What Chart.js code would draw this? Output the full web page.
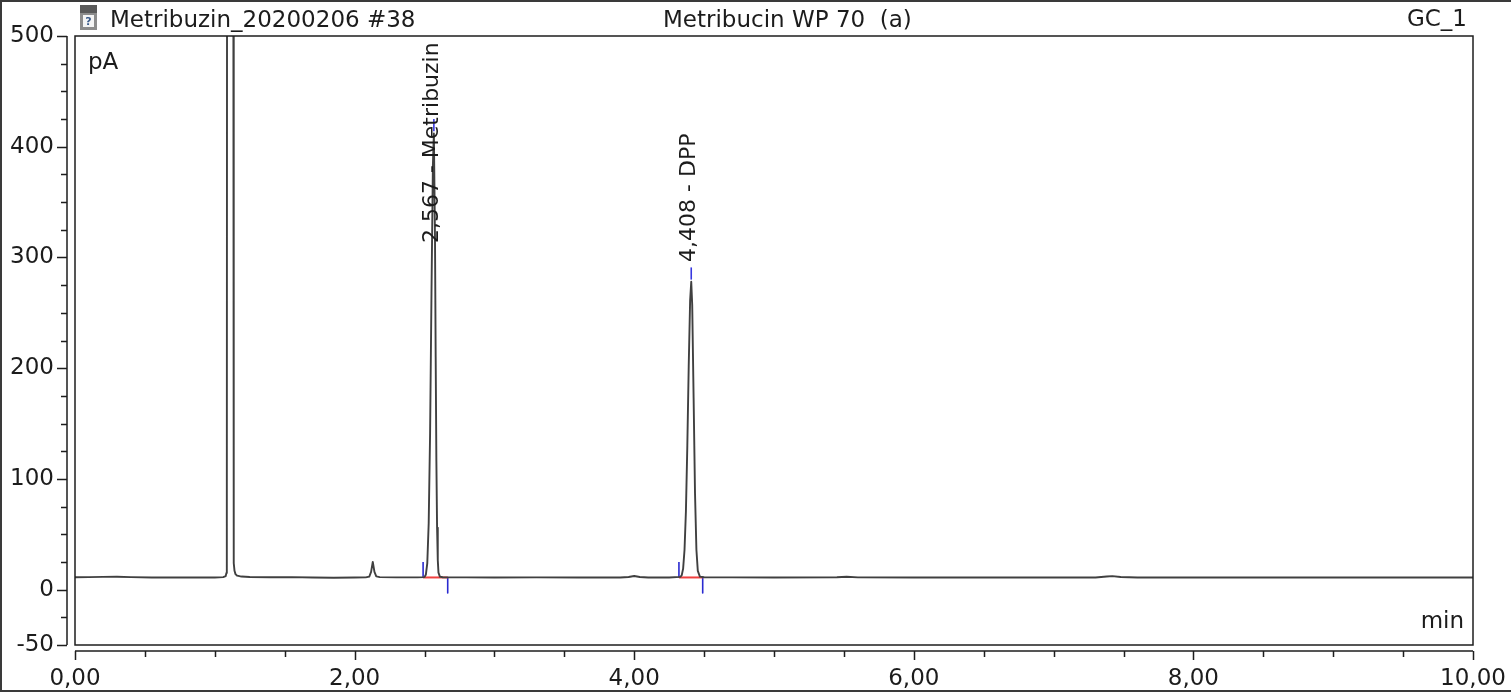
<!DOCTYPE html>
<html>
<head>
<meta charset="utf-8">
<title>Metribuzin_20200206 #38</title>
<script src="https://cdn.jsdelivr.net/npm/chart.js@4"></script>
<style>
  html, body { margin: 0; padding: 0; background: #fff; }
  canvas { display: block; }
</style>
</head>
<body>
<canvas id="chromChart" width="1511" height="692"></canvas>
<script>
// GC_1 trace: retention time (min) and detector signal (pA)
const traceTime = [
  0.00, 0.10, 0.20, 0.30, 0.40, 0.55, 0.70, 0.85, 1.00, 1.06,
  1.078, 1.083, 1.086, 1.088, 1.132, 1.134, 1.137, 1.141, 1.148, 1.16,
  1.19, 1.25, 1.40, 1.55, 1.70, 1.85, 2.00, 2.08, 2.105, 2.118,
  2.13, 2.142, 2.155, 2.18, 2.30, 2.45, 2.50, 2.51, 2.52, 2.53,
  2.54, 2.55, 2.56, 2.567, 2.575, 2.58, 2.585, 2.59, 2.595, 2.60,
  2.61, 2.63, 2.80, 3.00, 3.30, 3.60, 3.90, 3.96, 4.00, 4.04,
  4.10, 4.25, 4.33, 4.34, 4.35, 4.36, 4.37, 4.38, 4.39, 4.40,
  4.408, 4.415, 4.425, 4.435, 4.445, 4.455, 4.47, 4.50, 4.70, 5.00,
  5.45, 5.52, 5.60, 6.00, 6.50, 7.00, 7.30, 7.38, 7.42, 7.48,
  7.60, 8.00, 8.50, 9.00, 9.50, 10.00
];
const traceSignal = [
  11.2, 11.3, 11.5, 11.6, 11.3, 11.0, 10.9, 10.9, 11.0, 11.3,
  12.2, 15, 60, 700, 700, 60, 24, 17, 14, 12.6,
  11.8, 11.4, 11.2, 11.3, 10.9, 10.7, 10.9, 11.1, 11.8, 16,
  25, 16, 12, 11.3, 11.1, 11.1, 11.3, 13.7, 24, 60,
  141, 268, 383, 412, 319, 210, 116, 56, 26.7, 15.4,
  11.8, 11.2, 11.1, 11.0, 11.1, 10.9, 11.0, 11.4, 12.3, 11.4,
  11.0, 11.0, 11.5, 13, 19, 36, 71, 130, 202, 261,
  278, 257, 173, 87, 36, 17, 11.8, 11.2, 11.1, 11.0,
  11.2, 11.6, 11.1, 10.9, 10.9, 10.9, 11.0, 11.8, 12.2, 11.4,
  11.0, 10.9, 10.9, 10.9, 10.9, 10.9
];

// integrated peaks
const peakNames = ['Metribuzin', 'DPP'];
const peakTimes = [2.567, 4.408];
const peakHeights = [412, 278];
const peakStarts = [2.49, 4.32];
const peakEnds = [2.666, 4.49];
const peakBaseline = [11, 11];
// signal level where each rotated peak label begins
const peakLabelLevels = [313, 296];

// axis ticks
const xLabelled = [0, 2, 4, 6, 8, 10];
const xTickLabels = ['0,00', '2,00', '4,00', '6,00', '8,00', '10,00'];
const yLabelled = [500, 400, 300, 200, 100, 0, -50];
const yTickLabels = ['500', '400', '300', '200', '100', '0', '-50'];

const FONT = '"DejaVu Sans", sans-serif';
Chart.defaults.font.family = FONT;
Chart.defaults.font.size = 23;
Chart.defaults.color = '#1c1c1c';

const tracePoints = traceTime.map((t, i) => ({ x: t, y: traceSignal[i] }));

const segment = (pts, color, width) => ({
  data: pts,
  borderColor: color,
  borderWidth: width || 1.6,
  borderJoinStyle: 'round',
  pointRadius: 0,
  tension: 0
});

const baselineSets = peakStarts.map((s, i) =>
  segment([{ x: s, y: peakBaseline[i] }, { x: peakEnds[i], y: peakBaseline[i] }], '#f04040', 2));
const startTicks = peakStarts.map((s, i) =>
  segment([{ x: s, y: peakBaseline[i] }, { x: s, y: peakBaseline[i] + 14 }], '#2a2ad0'));
const endTicks = peakEnds.map((e, i) =>
  segment([{ x: e, y: peakBaseline[i] }, { x: e, y: peakBaseline[i] - 14 }], '#2a2ad0'));
const apexTicks = peakTimes.map((t, i) =>
  segment([{ x: t, y: peakHeights[i] + 2 }, { x: t, y: peakHeights[i] + 13 }], '#3838e0'));

// frame, offset axes, header and peak annotations
const chromDecor = {
  id: 'chromDecor',
  afterDraw(chart) {
    const { ctx, chartArea: ca } = chart;
    const xs = chart.scales.x, ys = chart.scales.y;
    ctx.save();

    // plot box
    ctx.strokeStyle = '#1e1e1e';
    ctx.lineWidth = 1.5;
    ctx.strokeRect(ca.left, ca.top, ca.right - ca.left, ca.bottom - ca.top);

    // y axis, set off to the left of the box
    const ax = ca.left - 8;
    ctx.beginPath();
    ctx.moveTo(ax, ys.getPixelForValue(500));
    ctx.lineTo(ax, ys.getPixelForValue(-50));
    ys.ticks.forEach(tk => {
      const py = Math.round(ys.getPixelForValue(tk.value)) + 0.5;
      const len = yLabelled.includes(tk.value) ? 10 : 6;
      ctx.moveTo(ax, py);
      ctx.lineTo(ax - len, py);
    });
    ctx.stroke();

    // x axis, set off below the box
    const ay = ca.bottom + 6;
    ctx.beginPath();
    ctx.moveTo(xs.getPixelForValue(0), ay);
    ctx.lineTo(xs.getPixelForValue(10), ay);
    xs.ticks.forEach(tk => {
      const px = Math.round(xs.getPixelForValue(tk.value)) + 0.5;
      const len = xLabelled.includes(tk.value) ? 9 : 6;
      ctx.moveTo(px, ay);
      ctx.lineTo(px, ay + len);
    });
    ctx.stroke();

    // header row
    ctx.fillStyle = '#8c8c8c';
    ctx.fillRect(80, 5, 17, 25);
    ctx.fillStyle = '#5a5a5a';
    ctx.fillRect(80, 5, 17, 8);
    ctx.fillStyle = '#f4f4f4';
    ctx.fillRect(83, 15, 11, 12);
    ctx.fillStyle = '#3b5b8a';
    ctx.font = 'bold 11px ' + FONT;
    ctx.textAlign = 'center';
    ctx.textBaseline = 'alphabetic';
    ctx.fillText('?', 88.5, 25);

    ctx.fillStyle = '#1c1c1c';
    ctx.font = '23px ' + FONT;
    ctx.textAlign = 'left';
    ctx.fillText('Metribuzin_20200206 #38', 110, 27);
    ctx.fillText('Metribucin WP 70  (a)', 663, 27);
    ctx.textAlign = 'right';
    ctx.fillText('GC_1', 1467, 26);

    // units
    ctx.textAlign = 'left';
    ctx.fillText('pA', 88, 69);
    ctx.textAlign = 'right';
    ctx.fillText('min', 1464, 628);

    // peak labels, written upwards
    ctx.textAlign = 'left';
    ctx.font = '22px ' + FONT;
    peakNames.forEach((name, i) => {
      const px = xs.getPixelForValue(peakTimes[i]);
      const py = ys.getPixelForValue(peakLabelLevels[i]);
      const txt = peakTimes[i].toFixed(3).replace('.', ',') + ' - ' + name;
      ctx.save();
      ctx.translate(px + 4, py);
      ctx.rotate(-Math.PI / 2);
      ctx.fillText(txt, 0, 0);
      ctx.restore();
    });

    // outer border
    ctx.fillStyle = '#3a3a3a';
    ctx.fillRect(0, 0, chart.width, 2);
    ctx.fillRect(0, 0, 2, chart.height);
    ctx.fillRect(0, chart.height - 2, chart.width, 2);

    ctx.restore();
  }
};

new Chart(document.getElementById('chromChart'), {
  type: 'line',
  data: {
    datasets: [
      segment(tracePoints, '#404040', 1.9),
      ...baselineSets,
      ...startTicks,
      ...endTicks,
      ...apexTicks
    ]
  },
  options: {
    responsive: false,
    animation: false,
    events: [],
    layout: { padding: { top: 36, right: 38, left: 0, bottom: 0 } },
    plugins: {
      legend: { display: false },
      tooltip: { enabled: false }
    },
    scales: {
      x: {
        type: 'linear',
        min: 0,
        max: 10,
        grid: { display: false, drawTicks: false },
        border: { display: false },
        afterFit(s) {
          s.height = 47;
          s.paddingLeft = 0;
          s.paddingRight = 0;
        },
        ticks: {
          stepSize: 0.5,
          autoSkip: false,
          maxRotation: 0,
          padding: 20,
          callback: v => {
            const k = xLabelled.indexOf(v);
            return k >= 0 ? xTickLabels[k] : '';
          }
        }
      },
      y: {
        type: 'linear',
        min: -50,
        max: 500,
        grid: { display: false, drawTicks: false },
        border: { display: false },
        afterFit(s) {
          s.width = 75;
          s.paddingTop = 0;
          s.paddingBottom = 0;
        },
        ticks: {
          stepSize: 25,
          autoSkip: false,
          padding: 21,
          callback: v => {
            const k = yLabelled.indexOf(v);
            return k >= 0 ? yTickLabels[k] : '';
          }
        }
      }
    }
  },
  plugins: [chromDecor]
});
</script>
</body>
</html>
